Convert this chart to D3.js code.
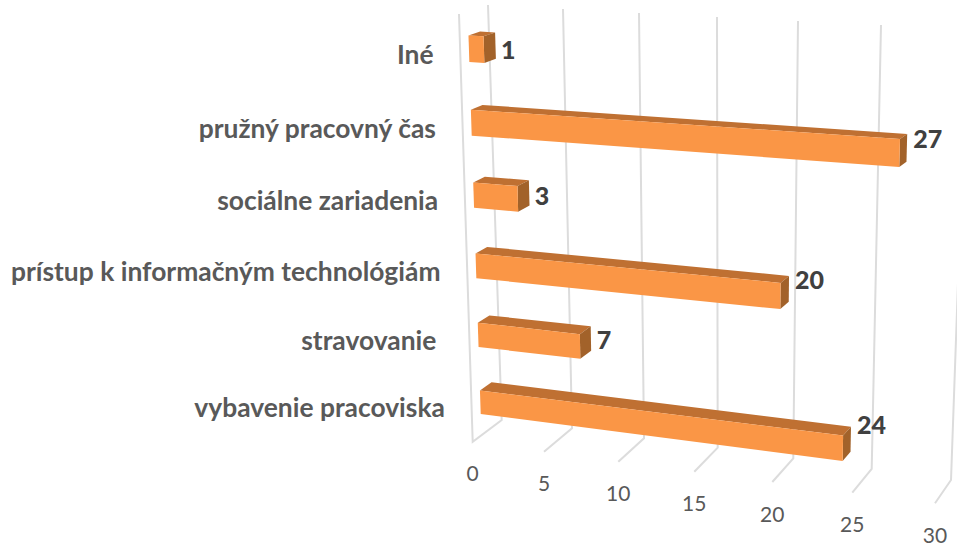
<!DOCTYPE html>
<html>
<head>
<meta charset="utf-8">
<script src="https://cdn.jsdelivr.net/npm/d3@7/dist/d3.min.js"></script>
<style>
html,body{margin:0;padding:0;background:#fff;overflow:hidden}
text{font-family:Lato,"Open Sans",sans-serif}
</style>
</head>
<body>
<svg id="chart" width="957" height="548"></svg>
<script>
const categories = ["Iné ", "pružný pracovný čas ", "sociálne zariadenia ", "prístup k informačným technológiám ", "stravovanie  ", "vybavenie pracoviska "];
const values = [1, 27, 3, 20, 7, 24];
const tickValues = [0, 5, 10, 15, 20, 25, 30];

const W = 957, H = 548;
const svg = d3.select("#chart").attr("viewBox", [0, 0, W, H]);

// Perspective frame: one scale for each edge of the 3D box
const edge = range => d3.scaleLinear().domain(tickValues).range(range);
const backTopX = edge([488, 563, 639, 717, 798, 881, 967]);
const backTopY = edge([5, 9, 13, 17, 21, 25, 29]);
const backBotX = edge([501.7, 572, 644, 717.7, 793.3, 871.7, 951]);
const backBotY = edge([420, 428.3, 438.3, 447.7, 458.3, 469, 480]);
const frontBotX = edge([472.7, 544, 618.3, 694.3, 772.3, 852.3, 935]);
const frontBotY = edge([441.7, 451.7, 461.7, 471.7, 482, 492.7, 503.3]);
const frontTopX = v => backTopX(v) + frontBotX(v) - backBotX(v);
const frontTopY = v => backTopY(v) + 9;

const lerp = (a, b, t) => a + (b - a) * t;
function project(v, h, d) {
  const bx = lerp(backTopX(v), backBotX(v), h), by = lerp(backTopY(v), backBotY(v), h);
  const fx = lerp(frontTopX(v), frontBotX(v), h), fy = lerp(frontTopY(v), frontBotY(v), h);
  return [lerp(bx, fx, d), lerp(by, fy, d)];
}
const band = d3.scaleBand().domain(categories).range([0, 1]).paddingInner(0.645).paddingOuter(0.32);
const warp = u => u + 0.07 * u * (1 - u);
const depthBack = 0.30, depthFront = 0.70;

const line = d3.line();
const gridColor = "#dcdcdc";
const grid = svg.append("g").attr("fill", "none").attr("stroke", gridColor).attr("stroke-width", 2);
grid.selectAll("path").data(tickValues).join("path")
  .attr("d", v => {
    const pts = [[backTopX(v), backTopY(v)], [backBotX(v), backBotY(v)], [frontBotX(v), frontBotY(v)]];
    if (v === 0) pts.push([frontTopX(v), frontTopY(v)]);
    return line(pts);
  });

const bars = svg.append("g").selectAll("g")
  .data(categories.map((c, i) => ({ c, v: values[i], i })))
  .join("g");
const hTop = d => warp(band(d.c));
const hBot = d => warp(band(d.c) + band.bandwidth());
const poly = pts => line(pts) + "Z";

bars.append("path").attr("fill", "#bf7032").attr("d", d => poly([
  project(0, hTop(d), depthFront), project(d.v, hTop(d), depthFront),
  project(d.v, hTop(d), depthBack), project(0, hTop(d), depthBack)]));
bars.append("path").attr("fill", "#a2622a").attr("d", d => poly([
  project(d.v, hTop(d), depthFront), project(d.v, hBot(d), depthFront),
  project(d.v, hBot(d), depthBack), project(d.v, hTop(d), depthBack)]));
bars.append("path").attr("fill", "#fa9646").attr("d", d => poly([
  project(0, hTop(d), depthFront), project(d.v, hTop(d), depthFront),
  project(d.v, hBot(d), depthFront), project(0, hBot(d), depthFront)]));

// Category labels
bars.append("text")
  .style("white-space", "pre")
  .attr("text-anchor", "end")
  .attr("dominant-baseline", "central")
  .attr("font-size", 26.4).attr("font-weight", 700).attr("fill", "#595959")
  .attr("x", d => project(0, (hTop(d) + hBot(d)) / 2, depthFront)[0] - 29)
  .attr("y", d => project(0, (hTop(d) + hBot(d)) / 2, depthFront)[1] + 5)
  .text(d => d.c);

// Value labels (the two long lower bars carry their labels a little higher)
const labelLift = d => (d.i === 3 ? 4 : d.i === 5 ? 7 : 0);
bars.append("text")
  .attr("dominant-baseline", "central")
  .attr("font-size", 25).attr("font-weight", 900).attr("fill", "#404040")
  .attr("x", d => project(d.v, hTop(d), depthBack)[0] + 6)
  .attr("y", d => project(d.v, (hTop(d) + hBot(d)) / 2, depthBack)[1] + 4 - 0.5 * d.v - labelLift(d))
  .text(d => d.v);

// Axis tick labels
svg.append("g").selectAll("text").data(tickValues).join("text")
  .attr("text-anchor", "middle")
  .attr("dominant-baseline", "central")
  .attr("font-size", 21).attr("fill", "#595959")
  .attr("x", v => frontBotX(v))
  .attr("y", v => frontBotY(v) + 31)
  .text(v => v);
</script>
</body>
</html>
